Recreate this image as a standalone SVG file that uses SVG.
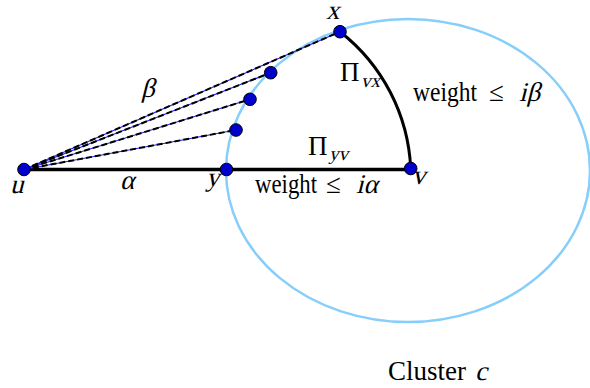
<svg xmlns="http://www.w3.org/2000/svg" width="590" height="388" viewBox="0 0 590 388">
<style>
.t{font-family:"Liberation Serif","Times New Roman",serif;font-size:27px;fill:#000}
.m{font-family:"Liberation Serif","Times New Roman",serif;font-size:27px;fill:#000}
.s{font-family:"Liberation Serif","Times New Roman",serif;font-size:19px;fill:#000}
.node{fill:#0000CC;stroke:#000;stroke-width:1}
.blue{stroke:#2222EE;stroke-width:1.2;fill:none}
.dash{stroke:#000;stroke-width:2;stroke-dasharray:6 3;fill:none}
</style>
<rect width="590" height="388" fill="#fff"/>
<g id="cluster">
<ellipse cx="408" cy="170.5" rx="182" ry="151.5" fill="none" stroke="#87CEFA" stroke-width="2.5"/>
</g>
<g id="connectors">
<line x1="24" y1="169.5" x2="411" y2="169.5" stroke="#000" stroke-width="3.5"/>
<path d="M340,31.7 A184,184 0 0 1 410.7,168.3" fill="none" stroke="#000" stroke-width="3"/>
<g class="blue">
<line x1="24" y1="169.5" x2="340" y2="31.7"/>
<line x1="24" y1="169.5" x2="270.7" y2="72.7"/>
<line x1="24" y1="169.5" x2="250" y2="99.3"/>
<line x1="24" y1="169.5" x2="236" y2="130"/>
</g>
<g class="dash">
<line x1="24" y1="169.5" x2="340" y2="31.7"/>
<line x1="24" y1="169.5" x2="270.7" y2="72.7"/>
<line x1="24" y1="169.5" x2="250" y2="99.3"/>
<line x1="24" y1="169.5" x2="236" y2="130"/>
</g>
</g>
<g id="node-u"><circle class="node" cx="24" cy="169.5" r="6.3"/><g transform="translate(10,192.5) skewX(-14)"><text class="m" x="0" y="0">u</text></g></g>
<g id="node-y"><circle class="node" cx="226.5" cy="169.5" r="6.3"/><g transform="translate(206,186) skewX(-14)"><text class="m" x="0" y="0">y</text></g></g>
<g id="node-v"><circle class="node" cx="410.7" cy="168.5" r="6.3"/><g transform="translate(412,184) skewX(-14)"><text class="m" x="0" y="0">v</text></g></g>
<g id="node-x"><circle class="node" cx="340" cy="31.7" r="6.3"/><g transform="translate(326,19) skewX(-14)"><text class="m" x="0" y="0">x</text></g></g>
<g id="node-p1"><circle class="node" cx="270.7" cy="72.7" r="6.3"/></g>
<g id="node-p2"><circle class="node" cx="250" cy="99.3" r="6.3"/></g>
<g id="node-p3"><circle class="node" cx="236" cy="130" r="6.3"/></g>
<g id="labels">
<g transform="translate(141,97) skewX(-14)"><text class="m" x="0" y="0">β</text></g>
<g transform="translate(120,189) skewX(-14)"><text class="m" x="0" y="0">α</text></g>
<text class="t" x="340" y="81">Π</text><g transform="translate(361,87) skewX(-14)"><text class="s" x="0" y="0">vx</text></g>
<text class="t" x="308" y="155">Π</text><g transform="translate(329,160) skewX(-14)"><text class="s" x="0" y="0">yv</text></g>
<text class="t" x="413" y="101" textLength="64" lengthAdjust="spacingAndGlyphs">weight</text>
<text class="t" x="489" y="101">≤</text>
<g transform="translate(519,101) skewX(-14)"><text class="m" x="0" y="0">iβ</text></g>
<text class="t" x="255" y="193" textLength="62" lengthAdjust="spacingAndGlyphs">weight</text>
<text class="t" x="326" y="193">≤</text>
<g transform="translate(356,193) skewX(-14)"><text class="m" x="0" y="0">iα</text></g>
<text class="t" x="388" y="380">Cluster</text>
<g transform="translate(475,380) skewX(-14)"><text class="m" x="0" y="0">c</text></g>
</g>
</svg>
